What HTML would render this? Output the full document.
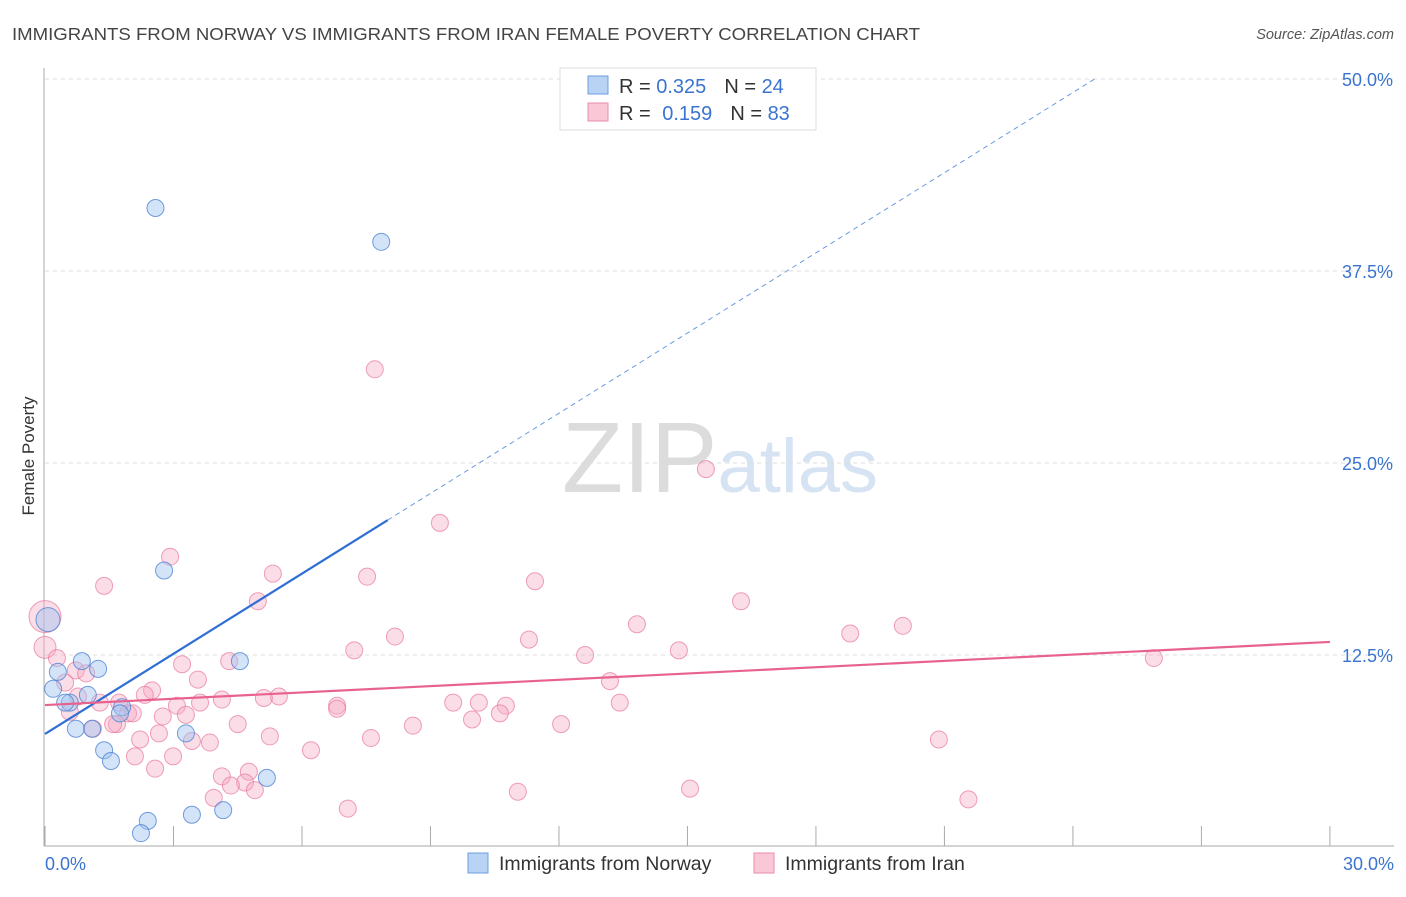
<!DOCTYPE html>
<html><head><meta charset="utf-8"><style>
body{margin:0;background:#fff;font-family:"Liberation Sans",sans-serif;}
svg text{font-family:"Liberation Sans",sans-serif;}
</style></head><body>
<svg id="chart" width="1406" height="892">
<text x="12" y="40" font-size="17.5" fill="#444" textLength="908" lengthAdjust="spacingAndGlyphs">IMMIGRANTS FROM NORWAY VS IMMIGRANTS FROM IRAN FEMALE POVERTY CORRELATION CHART</text>
<text x="1394" y="39" font-size="14.5" fill="#555" text-anchor="end" font-style="italic">Source: ZipAtlas.com</text>
<text x="34" y="456" font-size="17" fill="#333" text-anchor="middle" transform="rotate(-90 34 456)">Female Poverty</text>
<text x="720" y="492" font-size="100" fill="#e4e4e4" text-anchor="middle" font-family="Liberation Serif"><tspan fill="#dcdcdc">ZIP</tspan><tspan fill="#d6e3f3" font-family="Liberation Sans" font-size="76">atlas</tspan></text>
<g id="grid"></g><g id="marks"></g>
<g>
<rect x="560" y="68" width="256" height="62" fill="#fff" stroke="#ddd"/>
<rect x="588" y="76" width="20" height="18" fill="#b9d3f5" stroke="#6c9ee0"/>
<rect x="588" y="103" width="20" height="18" fill="#f9c7d6" stroke="#ea8eab"/>
<text x="619" y="93" font-size="20" fill="#333">R = <tspan fill="#3b74d0">0.325</tspan><tspan dx="18">N = </tspan><tspan fill="#3b74d0">24</tspan></text>
<text x="619" y="120" font-size="20" fill="#333">R = <tspan fill="#3b74d0" dx="6">0.159</tspan><tspan dx="18">N = </tspan><tspan fill="#3b74d0">83</tspan></text>
</g>
<g>
<rect x="468" y="853" width="20" height="20" fill="#b9d3f5" stroke="#6c9ee0"/>
<text x="499" y="870" font-size="19.5" fill="#333">Immigrants from Norway</text>
<rect x="754" y="853" width="20" height="20" fill="#f9c7d6" stroke="#ea8eab"/>
<text x="785" y="870" font-size="19.5" fill="#333">Immigrants from Iran</text>
</g>
</svg>
<script>
const yTicks=[12.5,25,37.5,50];
const yTickLabels=["12.5%","25.0%","37.5%","50.0%"];
const xEnds=["0.0%","30.0%"];
const norwayX=[2.58,7.85,2.78,0.07,4.55,0.86,1.24,0.30,0.19,1.00,0.58,0.47,1.80,1.75,0.72,1.10,3.29,1.38,1.54,5.18,4.16,3.43,2.40,2.24];
const norwayY=[41.6,39.4,18.0,14.8,12.1,12.1,11.6,11.4,10.3,9.9,9.4,9.4,9.1,8.7,7.7,7.7,7.4,6.3,5.6,4.5,2.4,2.1,1.7,0.9];
const iranX=[7.7,15.43,9.22,2.92,1.38,5.32,7.52,11.44,4.97,16.25,0.0,13.82,8.17,18.8,20.03,11.3,0.0,0.28,7.22,12.61,14.8,25.89,4.3,3.2,0.72,0.96,3.57,13.19,0.47,2.5,2.33,5.46,5.11,4.13,0.77,1.73,1.28,3.08,3.62,6.82,9.53,10.13,10.76,13.42,1.94,6.82,2.75,3.29,0.58,2.05,1.68,1.12,1.59,9.97,10.62,4.5,8.59,12.05,2.66,5.25,7.61,2.22,3.43,3.85,20.87,6.21,2.1,2.99,2.57,4.76,4.13,4.67,4.34,4.9,3.94,15.06,11.04,7.07,21.56];
const iranY=[31.1,24.6,21.1,18.9,17.0,17.8,17.6,17.3,16.0,16.0,15.0,14.5,13.7,13.9,14.4,13.5,13.0,12.3,12.8,12.5,12.8,12.3,12.1,11.9,11.5,11.3,10.9,10.8,10.7,10.2,9.9,9.8,9.7,9.6,9.8,9.4,9.4,9.2,9.4,9.2,9.4,9.4,9.2,9.4,8.7,9.0,8.5,8.6,8.8,8.7,8.0,7.7,8.0,8.3,8.7,8.0,7.9,8.0,7.4,7.2,7.1,7.0,6.9,6.8,7.0,6.3,5.9,5.9,5.1,4.9,4.6,4.2,4.0,3.7,3.2,3.8,3.6,2.5,3.1];
const norwayFit=[7.36,1.74];
const iranFit=[9.24,0.137];
const X=v=>45+v*42.83, Y=v=>847-v*15.36;
const NS="http://www.w3.org/2000/svg";
const grid=document.getElementById('grid'), marks=document.getElementById('marks');
function mk(t,a,p){const e=document.createElementNS(NS,t);for(const k in a)e.setAttribute(k,a[k]);p.appendChild(e);return e;}
yTicks.forEach((t,i)=>{
 const l=mk('line',{x1:45,x2:1394,y1:Y(t),y2:Y(t),stroke:'#ddd','stroke-dasharray':'4,4'},grid);
 
 
 const tx=mk('text',{x:1393,y:Y(t)+7,'font-size':18,fill:'#3b74d0','text-anchor':'end'},grid);tx.textContent=yTickLabels[i];
 
 
});
mk('line',{x1:44,x2:44,y1:68,y2:846,stroke:'#aaa'},grid);
mk('line',{x1:44,x2:1394,y1:846,y2:846,stroke:'#aaa'},grid);
for(let i=0;i<=10;i++){const l=mk('line',{x1:X(i*3),x2:X(i*3),y1:826,y2:846,stroke:'#aaa'},grid);
 
 }
const t0=mk('text',{x:45,y:870,'font-size':18,fill:'#3b74d0'},grid);t0.textContent=xEnds[0];


const t1=mk('text',{x:1394,y:870,'font-size':18,fill:'#3b74d0','text-anchor':'end'},grid);t1.textContent=xEnds[1];


iranX.forEach((x,i)=>{const r=i==10?16:(i==16?11:8.5);const c=mk('circle',{cx:X(x),cy:Y(iranY[i]),r:r,fill:'rgba(246,170,195,0.4)',stroke:'rgba(232,120,155,0.7)','stroke-width':1},marks);
 
 });
norwayX.forEach((x,i)=>{const r=i==3?12:8.5;const c=mk('circle',{cx:X(x),cy:Y(norwayY[i]),r:r,fill:'rgba(160,195,240,0.45)',stroke:'rgba(70,125,210,0.75)','stroke-width':1},marks);
 
 });
const xe=(50-norwayFit[0])/norwayFit[1];
const l1=mk('line',{x1:X(0),y1:Y(norwayFit[0]),x2:X(8),y2:Y(norwayFit[0]+8*norwayFit[1]),stroke:'#2f6fd3','stroke-width':2.2},marks);


const l2=mk('line',{x1:X(8),y1:Y(norwayFit[0]+8*norwayFit[1]),x2:X(xe),y2:Y(50),stroke:'#6a9be0','stroke-width':1,'stroke-dasharray':'5,4'},marks);


const l3=mk('line',{x1:X(0),y1:Y(iranFit[0]),x2:X(30),y2:Y(iranFit[0]+30*iranFit[1]),stroke:'#e8628e','stroke-width':2.2},marks);


</script>
</body></html>
